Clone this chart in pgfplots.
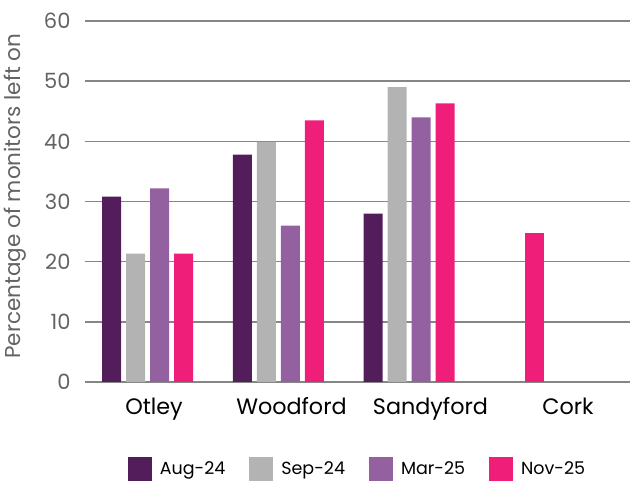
\documentclass[border=0pt]{standalone}
\usepackage{pgfplots}
\pgfplotsset{compat=1.18}
\usepackage{fontspec}
\setmainfont{Poppins}
\definecolor{caug}{HTML}{531C5B}
\definecolor{csep}{HTML}{B3B3B3}
\definecolor{cmar}{HTML}{9360A0}
\definecolor{cnov}{HTML}{EE1E79}
\definecolor{gridc}{HTML}{868686}
\definecolor{tickc}{HTML}{636363}
\begin{document}
\begin{tikzpicture}
\begin{axis}[
  name=ax,
  scale only axis,
  width=545pt, height=361pt,
  ybar, bar width=19pt,
  xmin=-0.478, xmax=3.690,
  ymin=0, ymax=60,
  ytick={0,10,...,60},
  xtick={0.050,1.101,2.164,3.216},
  xticklabels={Otley,Woodford,Sandyford,Cork},
  axis x line*=bottom,
  axis y line*=left,
  y axis line style={draw=none},
  x axis line style={gridc, line width=1.5pt, -},
  ymajorgrids,
  major grid style={gridc, line width=1.5pt},
  major tick length=0pt,
  tick style={draw=none},
  /pgf/number format/assume math mode=true,
  yticklabel style={font=\fontsize{21}{21}\selectfont, text=tickc, xshift=-11pt},
  xticklabel style={font=\fontsize{22.3}{22.3}\selectfont, text=black, yshift=-12pt},
  ylabel={Percentage of monitors left on},
  every axis y label/.style={at={(axis description cs:-0.128,0.515)}, anchor=center, rotate=90,
    font=\fontsize{21.5}{21.5}\selectfont, text=tickc},
  legend columns=4,
  legend style={draw=none, at={(0.500,-0.240)}, anchor=center,
    font=\fontsize{17.5}{17.5}\selectfont,
    /tikz/every odd column/.append style={column sep=6pt},
    /tikz/every even column/.append style={column sep=22pt}},
  legend image code/.code={\fill[#1] (0pt,-12pt) rectangle (24pt,12pt);},
  clip=false,
]
\addplot[fill=caug, draw=none, bar shift=-36pt] coordinates {(0,30.8) (1,37.8) (2,28.0)};
\addlegendentry{Aug-24}
\addplot[fill=csep, draw=none, bar shift=-12pt] coordinates {(0,21.35) (1,39.9) (2,49.0)};
\addlegendentry{Sep-24}
\addplot[fill=cmar, draw=none, bar shift=12pt] coordinates {(0,32.2) (1,26.0) (2,44.0)};
\addlegendentry{Mar-25}
\addplot[fill=cnov, draw=none, bar shift=36pt] coordinates {(0,21.35) (1,43.5) (2,46.3)};
\addlegendentry{Nov-25}
\addplot[fill=cnov, draw=none, bar shift=-5pt, forget plot] coordinates {(3,24.8)};
\end{axis}
\pgfresetboundingbox
\path (ax.south west) ++(-85pt,-100pt) rectangle ++(630pt,482pt);
\end{tikzpicture}
\end{document}
